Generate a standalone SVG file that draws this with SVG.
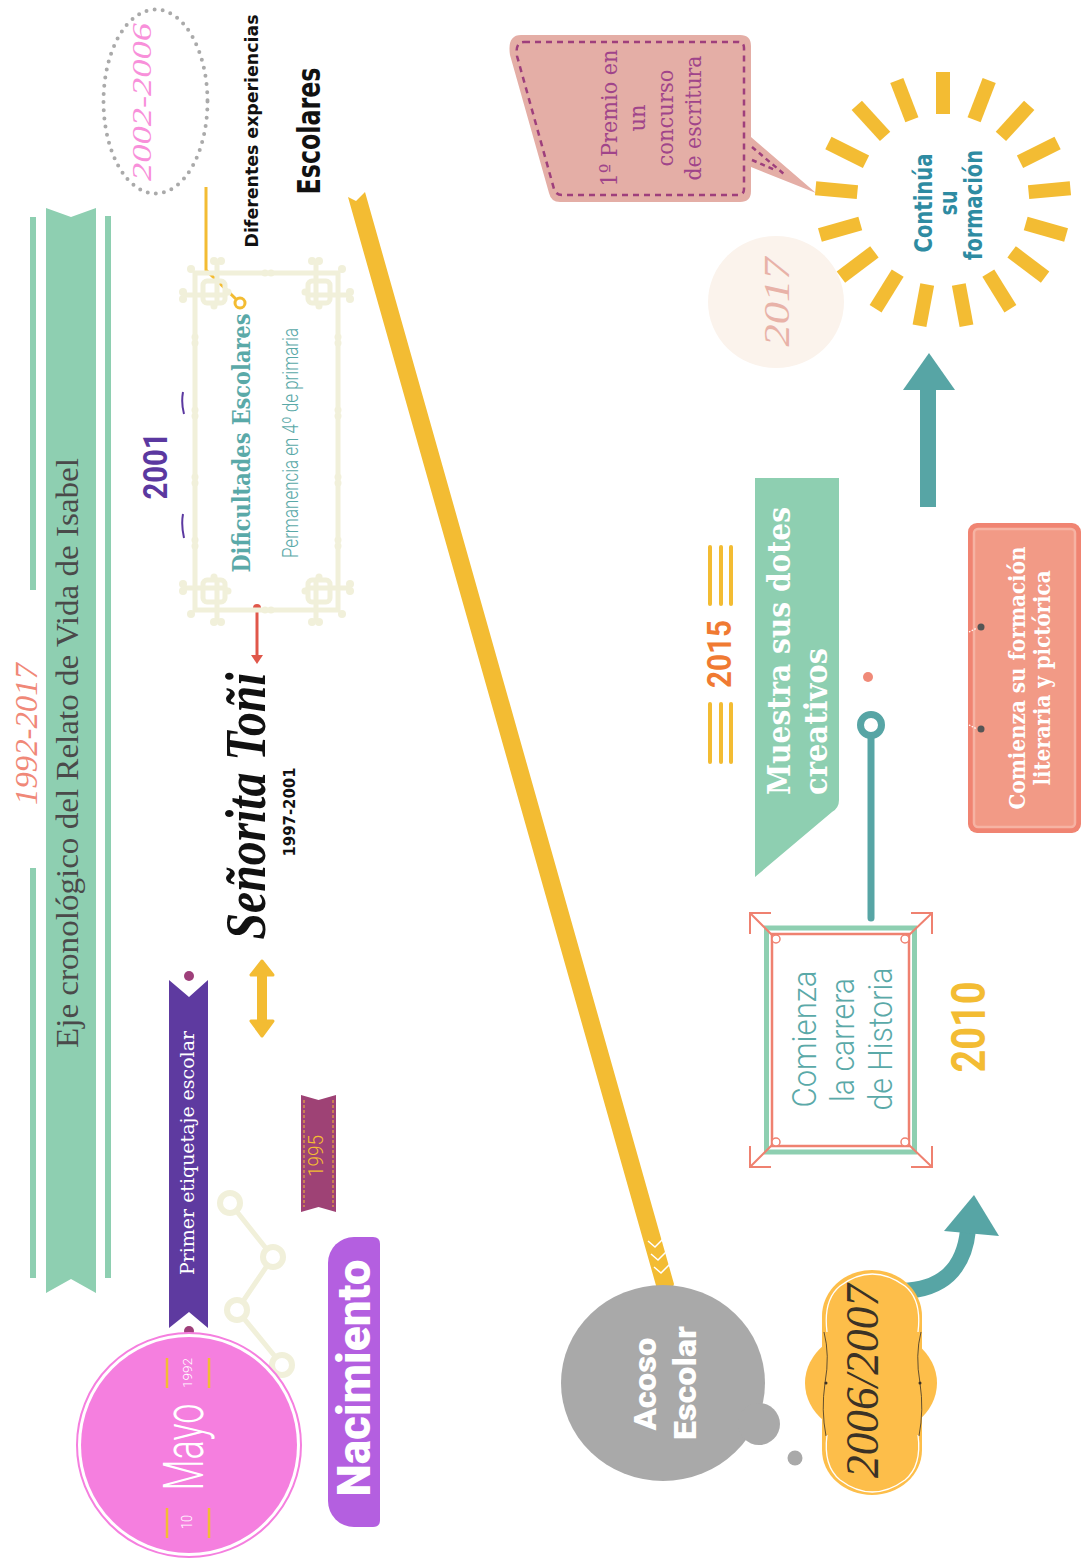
<svg xmlns="http://www.w3.org/2000/svg" xmlns:xlink="http://www.w3.org/1999/xlink" width="1082" height="1561" viewBox="0 0 1082 1561">
<style>
text { text-anchor: middle; }
.serif { font-family: "Liberation Serif", "DejaVu Serif", serif; }
.dserif { font-family: "DejaVu Serif", "Liberation Serif", serif; }
.sans { font-family: "DejaVu Sans", "Liberation Sans", sans-serif; font-weight: bold; }
.rob { font-family: Roboto, "Liberation Sans", sans-serif; }
.ital { font-family: "Liberation Serif", "DejaVu Serif", serif; font-style: italic; }
.teal { fill: #5aa9a8; }
.cream { stroke: #f1f0da; fill: none; stroke-width: 5; stroke-linecap: round; }
.knob { fill: #f1f0da; }
</style>
<defs>
<g id="corner">
  <path class="cream" d="M-10 22 H30 M22 -10 V30"/>
  <rect class="cream" x="8" y="8" width="22" height="22" rx="4" stroke-width="4"/>
  <circle class="knob" cx="-12" cy="19" r="4"/><circle class="knob" cx="-12" cy="26" r="4"/>
  <circle class="knob" cx="19" cy="-12" r="4"/><circle class="knob" cx="26" cy="-12" r="4"/>
  <circle class="knob" cx="33" cy="19" r="3.5"/><circle class="knob" cx="19" cy="33" r="3.5"/>
  <circle class="knob" cx="-4" cy="-4" r="4"/>
</g>
<g id="bonev"><circle class="knob" cx="-3" cy="0" r="3.5"/><circle class="knob" cx="3" cy="0" r="3.5"/></g>
<g id="boneh"><circle class="knob" cx="0" cy="-3" r="3.5"/><circle class="knob" cx="0" cy="3" r="3.5"/></g>
</defs>
<rect width="1082" height="1561" fill="#ffffff"/>

<g id="connectors">
  <!-- yellow timeline bar -->
  <polygon points="348,197 356,201 365,192 674,1284 668,1300 657,1289" fill="#f3bc33"/>
  <polyline points="648,1241 655,1247 664,1238" fill="none" stroke="#fff" stroke-width="1.5"/>
  <polyline points="651,1254 658,1260 667,1251" fill="none" stroke="#fff" stroke-width="1.5"/>
  <polyline points="654,1267 661,1273 670,1264" fill="none" stroke="#fff" stroke-width="1.5"/>
  <!-- yellow connector to Dificultades -->
  <polyline points="206,187 206,270 238,301" fill="none" stroke="#f3bc33" stroke-width="3"/>
  <circle cx="240" cy="303" r="5" fill="#fff" stroke="#f3bc33" stroke-width="3"/>
  <!-- red arrow -->
  <line x1="257" y1="608" x2="257" y2="656" stroke="#e0574a" stroke-width="3"/>
  <circle cx="257" cy="608" r="4" fill="#e0574a"/>
  <polygon points="251,655 263,655 257,664" fill="#e0574a"/>
  <!-- yellow double arrow -->
  <g fill="#f3bc33" stroke="#f3bc33" stroke-width="3" stroke-linejoin="round">
    <rect x="258.5" y="972" width="7" height="52"/>
    <polygon points="251,975 273,975 262,961"/>
    <polygon points="251,1021 273,1021 262,1036"/>
  </g>
  <!-- cream zigzag -->
  <polyline points="230,1203 273,1257 237,1310 282,1365" fill="none" stroke="#f1f0da" stroke-width="5"/>
  <g fill="#fff" stroke="#f1f0da" stroke-width="6">
    <circle cx="230" cy="1203" r="10"/><circle cx="273" cy="1257" r="10"/>
    <circle cx="237" cy="1310" r="10"/><circle cx="282" cy="1365" r="10"/>
  </g>
  <!-- purple dots -->
  <circle cx="189" cy="976" r="5" fill="#9e3f7a"/>
  <circle cx="189" cy="1331" r="5" fill="#9e3f7a"/>
  <!-- teal stem to Historia -->
  <line x1="871" y1="738" x2="871" y2="918" stroke="#57a5a5" stroke-width="7" stroke-linecap="round"/>
  <circle cx="871" cy="725" r="10.5" fill="#fff" stroke="#57a5a5" stroke-width="7"/>
  <circle cx="868" cy="677" r="5" fill="#f08a78"/>
  <!-- teal curved arrow -->
  <path d="M902 1291 Q962 1289 968 1230" fill="none" stroke="#57a5a5" stroke-width="16"/>
  <polygon points="944,1231 999,1236 974,1195" fill="#57a5a5"/>
  <!-- teal up arrow -->
  <rect x="920" y="388" width="16" height="119" fill="#57a5a5"/>
  <polygon points="903,390 955,390 929,353" fill="#57a5a5"/>
  <!-- thought dot -->
  <circle cx="795" cy="1458" r="7.5" fill="#a9a9a9"/>
</g>

<g id="title-banner">
  <rect x="30" y="217" width="6" height="373" fill="#8ecfb1"/>
  <rect x="30" y="868" width="6" height="410" fill="#8ecfb1"/>
  <rect x="105" y="216" width="6" height="1062" fill="#8ecfb1"/>
  <polygon points="46,208 71,217 96,208 96,1293 71,1279 46,1293" fill="#8ecfb1"/>
  <text class="serif" transform="translate(78,753) rotate(-90)" font-size="32" fill="#4a4a4a" textLength="590" lengthAdjust="spacingAndGlyphs">Eje cronológico del Relato de Vida de Isabel</text>
  <text class="ital" transform="translate(37,734) rotate(-90)" font-size="32" fill="#f08878" textLength="142" lengthAdjust="spacingAndGlyphs">1992-2017</text>
</g>

<g id="node-2002-2006">
  <ellipse cx="155.5" cy="101.5" rx="52" ry="92" fill="none" stroke="#aaaaaa" stroke-width="4" stroke-linecap="round" stroke-dasharray="0 8.2"/>
  <text class="ital" transform="translate(151,102) rotate(-90)" font-size="28" fill="#f890da" textLength="158" lengthAdjust="spacingAndGlyphs">2002-2006</text>
</g>

<g id="node-experiencias">
  <text class="sans" transform="translate(258,131) rotate(-90)" font-size="18" fill="#111" textLength="233" lengthAdjust="spacingAndGlyphs">Diferentes experiencias</text>
  <text class="sans" transform="translate(320,131) rotate(-90)" font-size="32" fill="#111" textLength="127" lengthAdjust="spacingAndGlyphs">Escolares</text>
</g>

<g id="node-2001">
  <text class="rob" transform="translate(167,466) rotate(-90)" font-size="34" font-weight="bold" fill="#5b38a0" textLength="67" lengthAdjust="spacingAndGlyphs">2001</text>
  <path d="M183 392 Q181 403 184 414 M183 514 Q181 525 184 538" stroke="#5b38a0" stroke-width="2" fill="none"/>
</g>

<g id="node-dificultades">
  <rect class="cream" x="195" y="273" width="143" height="337"/>
  <use xlink:href="#corner" href="#corner" transform="translate(195,273)"/>
  <use xlink:href="#corner" href="#corner" transform="translate(338,273) scale(-1,1)"/>
  <use xlink:href="#corner" href="#corner" transform="translate(195,610) scale(1,-1)"/>
  <use xlink:href="#corner" href="#corner" transform="translate(338,610) scale(-1,-1)"/>
  <use href="#boneh" transform="translate(195,340)"/><use href="#boneh" transform="translate(195,413)"/>
  <use href="#boneh" transform="translate(195,480)"/><use href="#boneh" transform="translate(195,543)"/>
  <use href="#boneh" transform="translate(338,340)"/><use href="#boneh" transform="translate(338,413)"/>
  <use href="#boneh" transform="translate(338,480)"/><use href="#boneh" transform="translate(338,543)"/>
  <use href="#bonev" transform="translate(268,273)"/><use href="#bonev" transform="translate(268,610)"/>
  <text class="dserif" transform="translate(250,443) rotate(-90)" font-size="24" font-weight="bold" fill="#5aa9a8" textLength="259" lengthAdjust="spacingAndGlyphs">Dificultades Escolares</text>
  <text class="rob" transform="translate(298,443) rotate(-90)" font-size="22" font-weight="300" fill="#5aa9a8" textLength="230" lengthAdjust="spacingAndGlyphs">Permanencia en 4º de primaria</text>
</g>

<g id="node-senorita">
  <text class="ital" transform="translate(265,806) rotate(-90)" font-size="58" font-weight="bold" fill="#111" textLength="267" lengthAdjust="spacingAndGlyphs">Señorita Toñi</text>
  <text class="sans" transform="translate(295,812) rotate(-90)" font-size="15" fill="#111" textLength="89" lengthAdjust="spacingAndGlyphs">1997-2001</text>
</g>

<g id="node-etiquetaje">
  <polygon points="169,980 189,997 208,980 208,1328 189,1312 169,1328" fill="#5e3aa0"/>
  <text class="dserif" transform="translate(194,1153) rotate(-90)" font-size="18" fill="#fff" textLength="244" lengthAdjust="spacingAndGlyphs">Primer etiquetaje escolar</text>
</g>

<g id="node-1995">
  <polygon points="301,1095 318.5,1100 336,1095 336,1212 318.5,1207 301,1212" fill="#9e4275"/>
  <line x1="304" y1="1100" x2="304" y2="1207" stroke="#f3bc33" stroke-width="1" stroke-dasharray="3 2"/>
  <line x1="333" y1="1100" x2="333" y2="1207" stroke="#f3bc33" stroke-width="1" stroke-dasharray="3 2"/>
  <text class="rob" transform="translate(323,1156) rotate(-90)" font-size="20" font-weight="300" fill="#f3bc33" textLength="42" lengthAdjust="spacingAndGlyphs">1995</text>
</g>

<g id="node-mayo">
  <circle cx="189" cy="1445" r="112" fill="#fff" stroke="#f57fdf" stroke-width="2"/>
  <circle cx="189" cy="1445" r="108" fill="#f57fdf"/>
  <g stroke="#f3bc33" stroke-width="2.5">
    <line x1="167" y1="1358" x2="167" y2="1388"/><line x1="209" y1="1358" x2="209" y2="1388"/>
    <line x1="167" y1="1508" x2="167" y2="1538"/><line x1="209" y1="1508" x2="209" y2="1538"/>
  </g>
  <text class="rob" transform="translate(203,1447) rotate(-90)" font-size="56" font-weight="300" fill="#fff" textLength="87" lengthAdjust="spacingAndGlyphs">Mayo</text>
  <text class="rob" transform="translate(192,1373) rotate(-90)" font-size="13" font-weight="300" fill="#fff" textLength="30" lengthAdjust="spacingAndGlyphs">1992</text>
  <text class="rob" transform="translate(192,1522) rotate(-90)" font-size="14" font-weight="300" fill="#fff" textLength="14" lengthAdjust="spacingAndGlyphs">10</text>
</g>

<g id="node-nacimiento">
  <path d="M354 1237 H373 Q380 1237 380 1244 V1520 Q380 1527 373 1527 H354 A26 26 0 0 1 328 1501 V1263 A26 26 0 0 1 354 1237 Z" fill="#b45fe0"/>
  <text class="rob" transform="translate(370,1378) rotate(-90)" font-size="46" font-weight="900" fill="#fff" textLength="237" lengthAdjust="spacingAndGlyphs">Nacimiento</text>
</g>

<g id="node-acoso">
  <ellipse cx="663" cy="1383" rx="102" ry="98" fill="#a9a9a9"/>
  <circle cx="759" cy="1424" r="21" fill="#a9a9a9"/>
  <text class="rob" transform="translate(656,1384) rotate(-90)" font-size="32" font-weight="900" fill="#fff" textLength="93" lengthAdjust="spacingAndGlyphs">Acoso</text>
  <text class="rob" transform="translate(696,1383) rotate(-90)" font-size="32" font-weight="900" fill="#fff" textLength="114" lengthAdjust="spacingAndGlyphs">Escolar</text>
</g>

<g id="node-2006-2007">
  <g fill="#fdbe4a">
    <ellipse cx="872" cy="1316" rx="50" ry="46"/>
    <ellipse cx="872" cy="1450" rx="50" ry="45"/>
    <ellipse cx="871" cy="1383" rx="66" ry="54"/>
    <rect x="822" y="1316" width="100" height="134"/>
  </g>
  <path d="M827 1332 Q823 1300 840 1286 Q872 1262 905 1286 Q922 1300 918 1332" fill="none" stroke="#fff" stroke-width="1.3"/>
  <path d="M827 1435 Q823 1466 840 1480 Q872 1504 905 1480 Q922 1466 918 1435" fill="none" stroke="#fff" stroke-width="1.3"/>
  <path d="M824 1332 Q830 1355 825 1383 Q821 1410 826 1436" fill="none" stroke="#3b3226" stroke-width="0.8"/>
  <path d="M921 1332 Q915 1355 920 1383 Q924 1410 919 1436" fill="none" stroke="#3b3226" stroke-width="0.8"/>
  <circle cx="826" cy="1383" r="1.5" fill="#3b3226"/><circle cx="920" cy="1383" r="1.5" fill="#3b3226"/>
  <text class="ital" transform="translate(878,1381) rotate(-90)" font-size="46" fill="#3b3226" textLength="194" lengthAdjust="spacingAndGlyphs">2006/2007</text>
</g>

<g id="node-historia">
  <rect x="766.5" y="928" width="148" height="224" fill="#fff" stroke="#8ecfb1" stroke-width="5"/>
  <rect x="772" y="934" width="137" height="212" fill="none" stroke="#ef8170" stroke-width="2.5"/>
  <g stroke="#ef8170" stroke-width="2" fill="none">
    <path d="M771 913 H750 V934 M750 913 L773 936"/>
    <path d="M911 913 H932 V934 M932 913 L908 936"/>
    <path d="M771 1167 H750 V1146 M750 1167 L773 1144"/>
    <path d="M911 1167 H932 V1146 M932 1167 L908 1144"/>
  </g>
  <g fill="#fff" stroke="#ef8170" stroke-width="1.5">
    <circle cx="776" cy="939" r="4"/><circle cx="905" cy="939" r="4"/>
    <circle cx="776" cy="1142" r="4"/><circle cx="905" cy="1142" r="4"/>
  </g>
  <text class="rob teal" transform="translate(816,1039) rotate(-90)" font-size="34" font-weight="300" textLength="137" lengthAdjust="spacingAndGlyphs">Comienza</text>
  <text class="rob teal" transform="translate(854,1040) rotate(-90)" font-size="34" font-weight="300" textLength="124" lengthAdjust="spacingAndGlyphs">la carrera</text>
  <text class="rob teal" transform="translate(892,1039) rotate(-90)" font-size="34" font-weight="300" textLength="143" lengthAdjust="spacingAndGlyphs">de Historia</text>
</g>

<g id="node-2010">
  <text class="rob" transform="translate(985,1027) rotate(-90)" font-size="48" font-weight="bold" fill="#f3bc33" textLength="91" lengthAdjust="spacingAndGlyphs">2010</text>
</g>

<g id="node-2015">
  <g stroke="#f3bc33" stroke-width="4" stroke-linecap="round">
    <line x1="710" y1="547" x2="710" y2="604"/><line x1="721" y1="547" x2="721" y2="604"/><line x1="731" y1="547" x2="731" y2="604"/>
    <line x1="710" y1="704" x2="710" y2="762"/><line x1="721" y1="704" x2="721" y2="762"/><line x1="731" y1="704" x2="731" y2="762"/>
  </g>
  <text class="rob" transform="translate(731,654) rotate(-90)" font-size="34" font-weight="bold" fill="#f07a32" textLength="68" lengthAdjust="spacingAndGlyphs">2015</text>
</g>

<g id="node-muestra">
  <path d="M755 478 H839 V800 Q839 808 832 812 L755 877 Z" fill="#8ecfb1"/>
  <text class="dserif" transform="translate(790,795) rotate(-90)" style="text-anchor:start" font-size="32" font-weight="bold" fill="#fff" textLength="288" lengthAdjust="spacingAndGlyphs">Muestra sus dotes</text>
  <text class="dserif" transform="translate(827,795) rotate(-90)" style="text-anchor:start" font-size="32" font-weight="bold" fill="#fff" textLength="147" lengthAdjust="spacingAndGlyphs">creativos</text>
</g>

<g id="node-formacion-literaria">
  <rect x="968" y="523" width="113" height="310" rx="9" fill="#f08472"/>
  <rect x="974" y="529" width="101" height="298" rx="4" fill="#f29a86" stroke="#f6b3a3" stroke-width="2.5"/>
  <circle cx="981" cy="627" r="3.5" fill="#555"/><circle cx="981" cy="729" r="3.5" fill="#555"/>
  <path d="M969 632 L977 628 M969 725 L977 729" stroke="#fff" stroke-width="1.3" stroke-dasharray="1.5 1.5"/>
  <text class="dserif" transform="translate(1025,678) rotate(-90)" font-size="22" font-weight="bold" fill="#fff" textLength="263" lengthAdjust="spacingAndGlyphs">Comienza su formación</text>
  <text class="dserif" transform="translate(1050,678) rotate(-90)" font-size="22" font-weight="bold" fill="#fff" textLength="215" lengthAdjust="spacingAndGlyphs">literaria y pictórica</text>
</g>

<g id="node-premio">
  <path d="M521 35 H740 Q751 35 751 46 V137 L816 193 L751 167 V191 Q751 202 740 202 H560 Q551 202 549 193 L510 55 Q507 35 521 35 Z" fill="#e4aea6"/>
  <path d="M524 42 H738 Q744 42 744 48 V189 Q744 195 738 195 H562 Q556 195 554 189 L517 56 Q515 42 524 42 Z" fill="none" stroke="#9e3f7c" stroke-width="2.5" stroke-dasharray="6 5"/>
  <path d="M752 147 L784 174 M752 160 L775 170" stroke="#9e3f7c" stroke-width="2.5" stroke-dasharray="5 4"/>
  <text class="dserif" transform="translate(617,118) rotate(-90)" font-size="23" fill="#a0448a" textLength="137" lengthAdjust="spacingAndGlyphs">1º Premio en</text>
  <text class="dserif" transform="translate(645,118) rotate(-90)" font-size="23" fill="#a0448a" textLength="27" lengthAdjust="spacingAndGlyphs">un</text>
  <text class="dserif" transform="translate(673,118) rotate(-90)" font-size="23" fill="#a0448a" textLength="97" lengthAdjust="spacingAndGlyphs">concurso</text>
  <text class="dserif" transform="translate(701,118) rotate(-90)" font-size="23" fill="#a0448a" textLength="125" lengthAdjust="spacingAndGlyphs">de escritura</text>
</g>

<g id="node-2017">
  <ellipse cx="776" cy="302" rx="68" ry="66" fill="#fbf3ec"/>
  <text class="ital" transform="translate(789,302) rotate(-90)" font-size="36" fill="#e8b2a8" textLength="89" lengthAdjust="spacingAndGlyphs">2017</text>
</g>

<g id="node-continua">
  <g stroke="#f3bc33" stroke-width="14">
    <line x1="943" y1="114" x2="943" y2="72"/>
    <line x1="974.1" y1="119.8" x2="989.2" y2="80.6"/>
    <line x1="1000.9" y1="136.4" x2="1029.2" y2="105.4"/>
    <line x1="1020.0" y1="161.7" x2="1057.6" y2="143.0"/>
    <line x1="1028.6" y1="192.1" x2="1070.4" y2="188.2"/>
    <line x1="1025.7" y1="223.5" x2="1066.1" y2="235.0"/>
    <line x1="1011.6" y1="251.8" x2="1045.1" y2="277.1"/>
    <line x1="988.3" y1="273.1" x2="1010.4" y2="308.8"/>
    <line x1="958.8" y1="284.5" x2="966.5" y2="325.8"/>
    <line x1="927.2" y1="284.5" x2="919.5" y2="325.8"/>
    <line x1="897.7" y1="273.1" x2="875.6" y2="308.8"/>
    <line x1="874.4" y1="251.8" x2="840.9" y2="277.1"/>
    <line x1="860.3" y1="223.5" x2="819.9" y2="235.0"/>
    <line x1="857.4" y1="192.1" x2="815.6" y2="188.2"/>
    <line x1="866.0" y1="161.7" x2="828.4" y2="143.0"/>
    <line x1="885.1" y1="136.4" x2="856.8" y2="105.4"/>
    <line x1="911.9" y1="119.8" x2="896.8" y2="80.6"/>
  </g>
  <text class="sans" transform="translate(932,203) rotate(-90)" font-size="24" fill="#2e8ba2" textLength="99" lengthAdjust="spacingAndGlyphs">Continúa</text>
  <text class="sans" transform="translate(957,203) rotate(-90)" font-size="24" fill="#2e8ba2" textLength="25" lengthAdjust="spacingAndGlyphs">su</text>
  <text class="sans" transform="translate(982,205) rotate(-90)" font-size="24" fill="#2e8ba2" textLength="110" lengthAdjust="spacingAndGlyphs">formación</text>
</g>
</svg>
